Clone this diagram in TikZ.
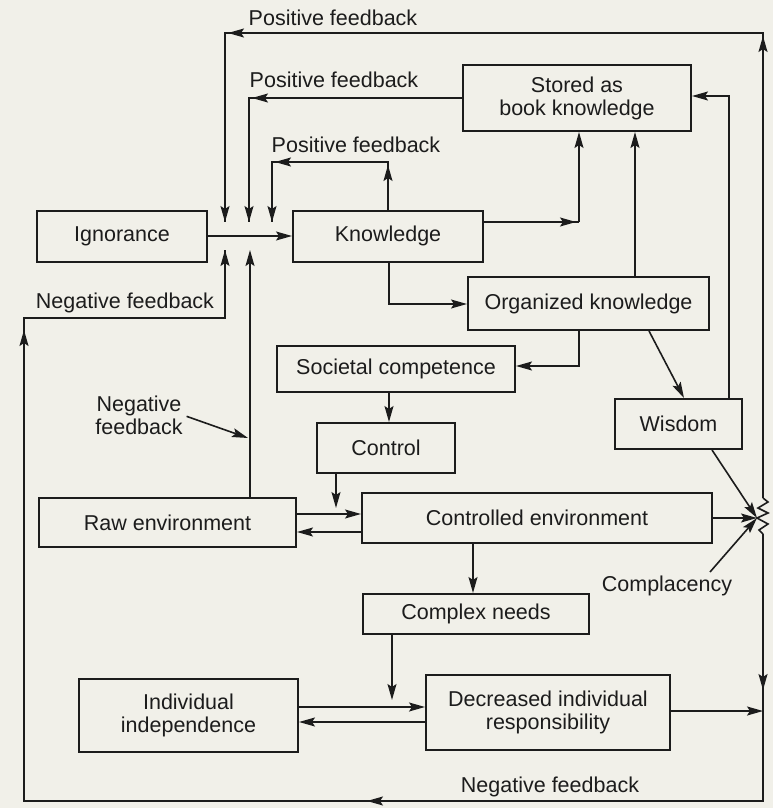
\documentclass[tikz,border=0pt]{standalone}
\usepackage{fontspec}
\setmainfont{Liberation Sans}
\usetikzlibrary{arrows.meta}
\definecolor{paper}{RGB}{241,240,233}
\definecolor{ink}{RGB}{28,28,28}
\tikzset{
  txt/.style={text=ink, align=center, inner sep=0pt, font=\fontsize{21.5}{23}\selectfont},
  box/.style={txt, draw=ink, line width=2pt, rectangle},
  wire/.style={draw=ink, line width=1.6pt},
  arr/.style={wire, -{Stealth[length=16pt, width=9pt, inset=3pt]}},
  tip/.style={arr, shorten >=3pt},
}
\begin{document}
\begin{tikzpicture}[x=1pt, y=-1pt]
\fill[paper] (0,0) rectangle (773,808);
\useasboundingbox (0,0) rectangle (773,808);

% ---- boxes ----
\node[box, minimum width=170pt, minimum height=51pt] (ign)    at (122,236)   {Ignorance};
\node[box, minimum width=190pt, minimum height=51pt] (know)   at (388,236)   {Knowledge};
\node[box, minimum width=228pt, minimum height=66pt] (stored) at (577,98)    {Stored as\\book knowledge};
\node[box, minimum width=241pt, minimum height=53pt] (org)    at (588.5,303.5) {Organized knowledge};
\node[box, minimum width=238pt, minimum height=46pt] (soc)    at (396,369)   {Societal competence};
\node[box, minimum width=138pt, minimum height=50pt] (ctrl)   at (386,448)   {Control};
\node[box, minimum width=127pt, minimum height=50pt] (wis)    at (678.5,424) {Wisdom};
\node[box, minimum width=257pt, minimum height=49pt] (raw)    at (167.5,522.5) {Raw environment};
\node[box, minimum width=350pt, minimum height=50pt] (cenv)   at (537,518)   {Controlled environment};
\node[box, minimum width=226pt, minimum height=40pt] (cneeds) at (476,614)   {Complex needs};
\node[box, minimum width=219pt, minimum height=73pt] (indep)  at (188.5,715.5) {Individual\\independence};
\node[box, minimum width=244pt, minimum height=75pt] (dec)    at (548,712.5) {Decreased individual\\responsibility};

% ---- labels ----
\node[txt] (pf1) at (333,18)  {Positive feedback};
\node[txt] (pf2) at (334,80)  {Positive feedback};
\node[txt] (pf3) at (356,145) {Positive feedback};
\node[txt] (nf1) at (125,303) {Negative feedback};
\node[txt] (nf2) at (139,415) {Negative\\feedback};
\node[txt] (comp) at (667,586) {Complacency};
\node[txt] (nf3) at (550,787) {Negative feedback};

% ---- junction points on the Ignorance-Knowledge line ----
\coordinate (jAtop) at (225,222);
\coordinate (jBtop) at (249,222);
\coordinate (jCtop) at (272,222);
\coordinate (jAbot) at (225,250);
\coordinate (jBbot) at (250,250);

% ---- zigzag on the right rail ----
\coordinate (zt) at (763,498);
\coordinate (zm) at (757,518);
\coordinate (zb) at (763,534);
\draw[wire, line join=miter] (zt) -- (768,502) -- (758,508) -- (768,513) -- (zm)
  -- (768,524) -- (759,530) -- (zb);

% ---- Ignorance to Knowledge ----
\draw[arr] (ign.east) -- (know.west);

% ---- outer positive feedback (right rail, top) ----
\coordinate (tr) at (763,33);
\coordinate (tl) at (225,33);
\draw[wire] (zt) -- (tr) -- (tl) -- (jAtop);
\draw[tip] (zt) -- (tr);
\draw[tip] (tr) -- (tl);
\draw[arr] (tl) -- (jAtop);

% ---- positive feedback from stored knowledge ----
\coordinate (c2) at (249,98);
\draw[wire] (stored.west) -- (c2) -- (jBtop);
\draw[tip] (stored.west) -- (c2);
\draw[arr] (c2) -- (jBtop);

% ---- positive feedback from knowledge ----
\coordinate (c3a) at (388,162);
\coordinate (c3b) at (272,162);
\draw[wire] (know.north) -- (c3a) -- (c3b) -- (jCtop);
\draw[tip] (know.north) -- (c3a);
\draw[tip] (c3a) -- (c3b);
\draw[arr] (c3b) -- (jCtop);

% ---- negative feedback loop (right rail, bottom and left side) ----
\coordinate (dA) at (763,690);
\coordinate (br) at (763,801);
\coordinate (bA) at (367,801);
\coordinate (bl) at (24,801);
\coordinate (lA) at (24,330);
\coordinate (ml) at (24,318);
\coordinate (mr) at (225,318);
\draw[wire] (zb) -- (br) -- (bl) -- (ml) -- (mr) -- (jAbot);
\draw[arr] (zb) -- (dA);
\draw[arr] (br) -- (bA);
\draw[arr] (bl) -- (lA);
\draw[arr] (mr) -- (jAbot);

% ---- negative feedback from raw environment ----
\draw[arr] (raw.north -| jBbot) -- (jBbot);
\coordinate (nfp) at (248,438);
\draw[arr, shorten <=4pt] (nf2.east) -- (nfp);

% ---- knowledge to stored knowledge ----
\coordinate (ks) at (579,222);
\draw[wire] (know.east |- ks) -- (ks);
\draw[tip] (know.east |- ks) -- (ks);
\draw[arr] (ks) -- (ks |- stored.south);

% ---- organized knowledge to stored knowledge ----
\coordinate (os) at (635,200);
\draw[arr] (org.north -| os) -- (os |- stored.south);

% ---- wisdom to stored knowledge ----
\coordinate (ws) at (729,96);
\draw[arr] (wis.north -| ws) -- (ws) -- (ws -| stored.east);

% ---- knowledge to organized knowledge ----
\coordinate (ko) at (389,304);
\draw[arr] (know.south -| ko) -- (ko) -- (ko -| org.west);

% ---- organized knowledge to societal competence ----
\coordinate (oc) at (579,366);
\draw[arr] (org.south -| oc) -- (oc) -- (oc -| soc.east);

% ---- organized knowledge to wisdom ----
\coordinate (ow1) at (649,300);
\coordinate (ow2) at (684,400);
\draw[arr] (org.south -| ow1) -- (wis.north -| ow2);

% ---- societal competence to control ----
\coordinate (sc) at (389,400);
\draw[arr] (soc.south -| sc) -- (ctrl.north -| sc);

% ---- control onto the raw/controlled link ----
\coordinate (cl) at (336,508);
\draw[arr] (ctrl.south -| cl) -- (cl);

% ---- raw and controlled environment ----
\coordinate (rc1) at (330,514);
\coordinate (rc2) at (330,532);
\draw[arr] (raw.east |- rc1) -- (cenv.west |- rc1);
\draw[arr] (cenv.west |- rc2) -- (raw.east |- rc2);

% ---- controlled environment to complex needs ----
\coordinate (cc) at (473,570);
\draw[arr] (cenv.south -| cc) -- (cneeds.north -| cc);

% ---- complex needs onto the independence/responsibility link ----
\coordinate (cd) at (392,700);
\draw[arr] (cneeds.south -| cd) -- (cd);

% ---- independence and decreased responsibility ----
\coordinate (id1) at (360,707);
\coordinate (id2) at (360,722);
\draw[arr] (indep.east |- id1) -- (dec.west |- id1);
\draw[arr] (dec.west |- id2) -- (indep.east |- id2);

% ---- decreased responsibility to the right rail ----
\coordinate (dr) at (763,711);
\draw[arr] (dec.east |- dr) -- (dr);

% ---- arrows into the zigzag ----
\coordinate (wz) at (712,470);
\draw[arr] (wis.south -| wz) -- (zm);
\draw[arr] (cenv.east |- zm) -- (zm);
\coordinate (cp) at (710,572);
\draw[arr] (cp) -- (zm);
\end{tikzpicture}
\end{document}
